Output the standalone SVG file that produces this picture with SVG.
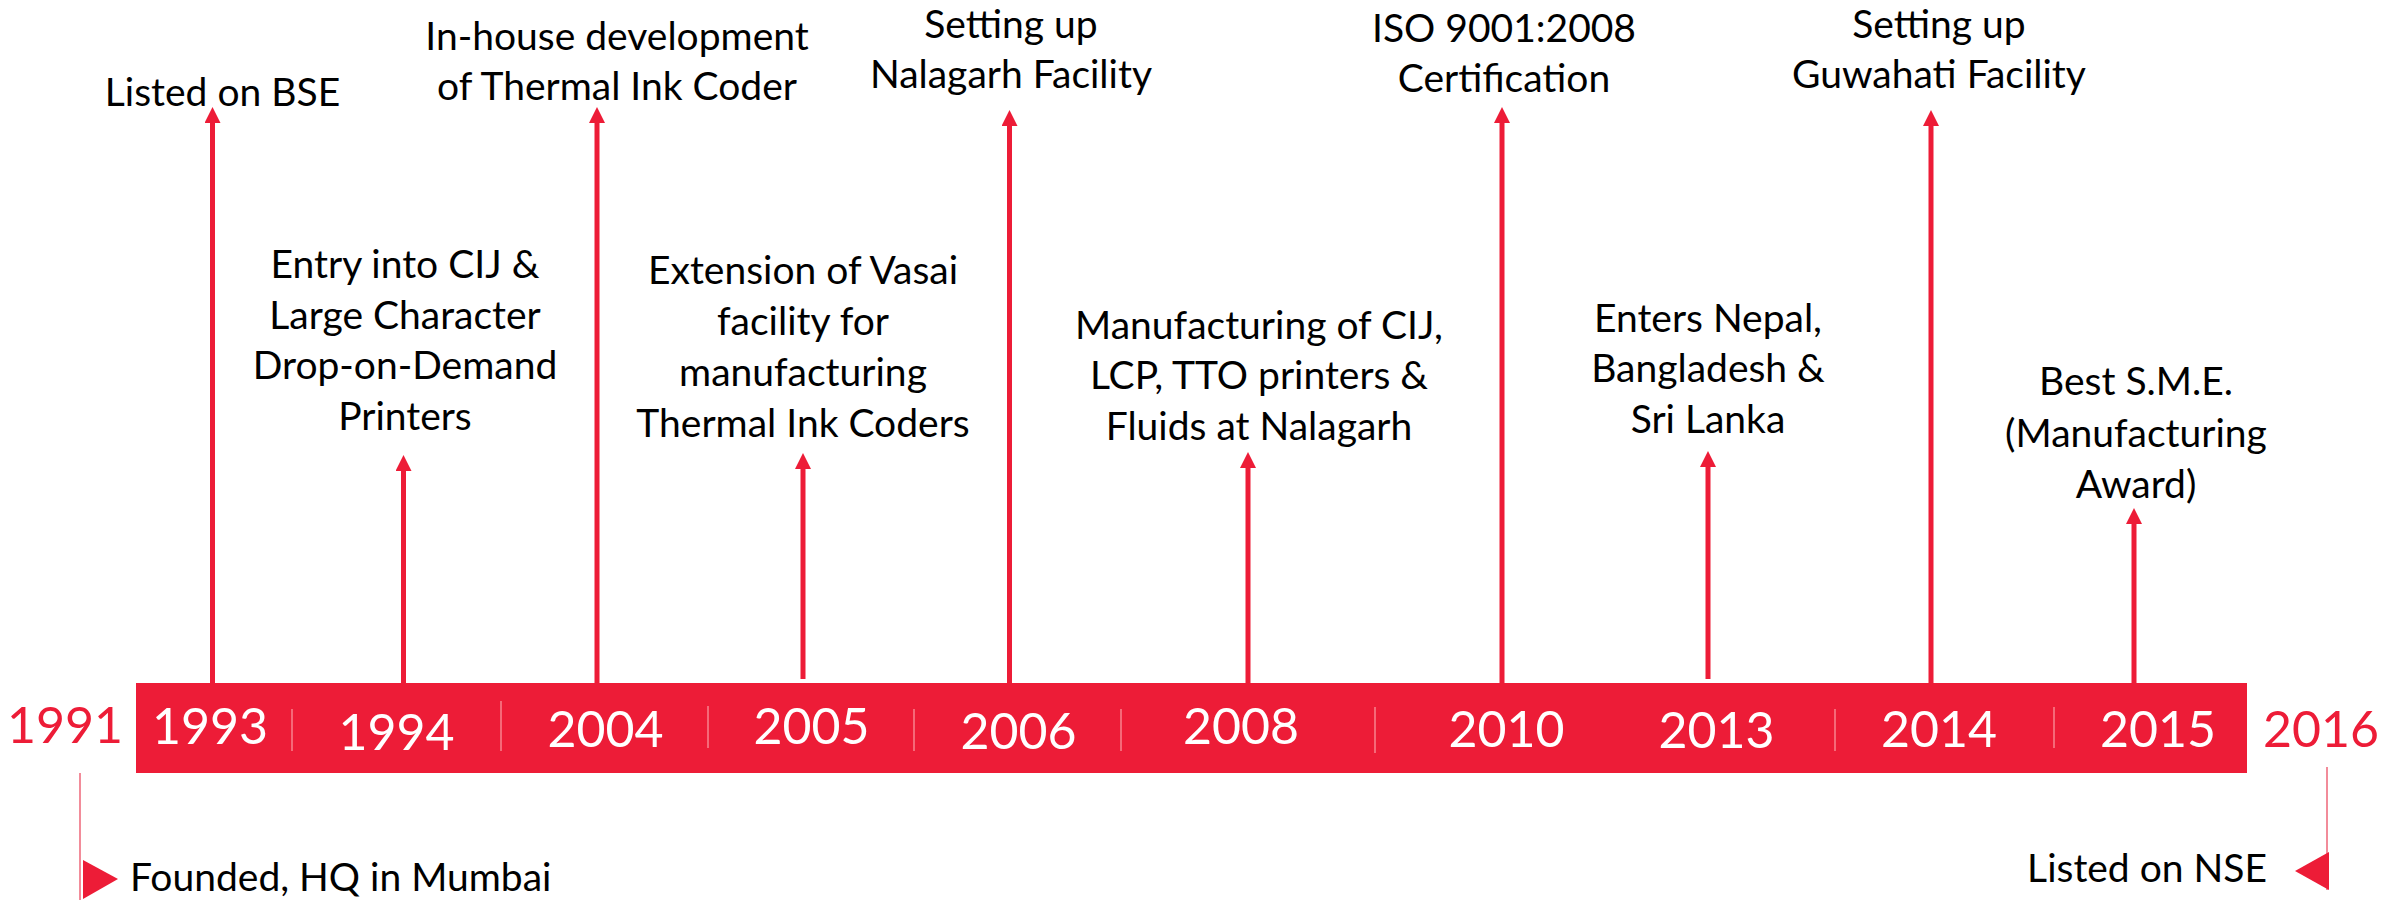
<svg xmlns="http://www.w3.org/2000/svg" width="2395" height="900" viewBox="0 0 2395 900">
  <defs>
    <style>
      text { font-family: Lato, "Liberation Sans", sans-serif; }
      .lbl { font-size: 39px; fill: #000; text-anchor: middle; }
      .yr { font-size: 50px; fill: #fff; text-anchor: middle; }
      .yr-out { font-size: 50px; fill: #ED1C37; text-anchor: middle; }
      .arrow { stroke: #ED1C37; stroke-width: 5; fill: none; marker-end: url(#head); }
      .sep { stroke: #F7838F; stroke-width: 1.5; }
      .tick { stroke: #F28C9A; stroke-width: 2; }
    </style>
    <marker id="head" markerUnits="userSpaceOnUse" markerWidth="16" markerHeight="16" refX="0" refY="8" orient="auto" viewBox="0 0 16 16">
      <path d="M0,0 L16,8 L0,16 z" fill="#ED1C37"/>
    </marker>
  </defs>

  <rect width="2395" height="900" fill="#fff"/>

  <!-- timeline bar -->
  <g id="bar">
    <rect x="136" y="683" width="2111" height="90" fill="#ED1C37"/>
    <line class="sep" x1="292" y1="709" x2="292" y2="751"/>
    <line class="sep" x1="501" y1="701" x2="501" y2="751"/>
    <line class="sep" x1="708" y1="706" x2="708" y2="748"/>
    <line class="sep" x1="914" y1="709" x2="914" y2="751"/>
    <line class="sep" x1="1121" y1="709" x2="1121" y2="751"/>
    <line class="sep" x1="1375" y1="707" x2="1375" y2="753"/>
    <line class="sep" x1="1835" y1="709" x2="1835" y2="751"/>
    <line class="sep" x1="2054" y1="707" x2="2054" y2="748"/>
    <text class="yr" x="210" y="744">1993</text>
    <text class="yr" x="396.5" y="750">1994</text>
    <text class="yr" x="605.5" y="747">2004</text>
    <text class="yr" x="811.5" y="744">2005</text>
    <text class="yr" x="1018.5" y="749">2006</text>
    <text class="yr" x="1241" y="744">2008</text>
    <text class="yr" x="1506.5" y="747">2010</text>
    <text class="yr" x="1716.5" y="748">2013</text>
    <text class="yr" x="1939" y="747">2014</text>
    <text class="yr" x="2158" y="747">2015</text>
  </g>

  <!-- start and end markers -->
  <g id="start-1991">
    <text class="yr-out" x="65" y="743">1991</text>
    <line class="tick" x1="80" y1="773" x2="80" y2="900"/>
    <polygon points="83,860 118,879 83,899" fill="#ED1C37"/>
    <text x="130" y="891" style="font-size:39px;fill:#000">Founded, HQ in Mumbai</text>
  </g>
  <g id="end-2016">
    <text class="yr-out" x="2321" y="747">2016</text>
    <line class="tick" x1="2327" y1="767" x2="2327" y2="890"/>
    <polygon points="2329,852 2295,871 2329,890" fill="#ED1C37"/>
    <text x="2267" y="882" style="font-size:39px;fill:#000;text-anchor:end">Listed on NSE</text>
  </g>

  <!-- milestone pointers -->
  <g id="connectors">
    <line class="arrow" x1="212.5" y1="683" x2="212.5" y2="123"/>
    <line class="arrow" x1="403.5" y1="683" x2="403.5" y2="471"/>
    <line class="arrow" x1="597" y1="683" x2="597" y2="123"/>
    <line class="arrow" x1="803" y1="679" x2="803" y2="469"/>
    <line class="arrow" x1="1009.5" y1="683" x2="1009.5" y2="126"/>
    <line class="arrow" x1="1248" y1="683" x2="1248" y2="468"/>
    <line class="arrow" x1="1502" y1="683" x2="1502" y2="123"/>
    <line class="arrow" x1="1708" y1="679" x2="1708" y2="467"/>
    <line class="arrow" x1="1931" y1="683" x2="1931" y2="126"/>
    <line class="arrow" x1="2134" y1="683" x2="2134" y2="524"/>
  </g>

  <!-- milestone captions -->
  <g id="m1993">
    <text class="lbl" x="222.5" y="106">Listed on BSE</text>
  </g>
  <g id="m1994">
    <text class="lbl" x="405" y="278">Entry into CIJ &amp;</text>
    <text class="lbl" x="405" y="329">Large Character</text>
    <text class="lbl" x="405" y="379">Drop-on-Demand</text>
    <text class="lbl" x="405" y="430">Printers</text>
  </g>
  <g id="m2004">
    <text class="lbl" x="617" y="50">In-house development</text>
    <text class="lbl" x="617" y="100">of Thermal Ink Coder</text>
  </g>
  <g id="m2005">
    <text class="lbl" x="803" y="284">Extension of Vasai</text>
    <text class="lbl" x="803" y="335">facility for</text>
    <text class="lbl" x="803" y="386">manufacturing</text>
    <text class="lbl" x="803" y="437">Thermal Ink Coders</text>
  </g>
  <g id="m2006">
    <text class="lbl" x="1011" y="38">Setting up</text>
    <text class="lbl" x="1011" y="88">Nalagarh Facility</text>
  </g>
  <g id="m2008">
    <text class="lbl" x="1259" y="339">Manufacturing of CIJ,</text>
    <text class="lbl" x="1259" y="389">LCP, TTO printers &amp;</text>
    <text class="lbl" x="1259" y="440">Fluids at Nalagarh</text>
  </g>
  <g id="m2010">
    <text class="lbl" x="1504" y="42">ISO 9001:2008</text>
    <text class="lbl" x="1504" y="92">Certification</text>
  </g>
  <g id="m2013">
    <text class="lbl" x="1708" y="332">Enters Nepal,</text>
    <text class="lbl" x="1708" y="382">Bangladesh &amp;</text>
    <text class="lbl" x="1708" y="433">Sri Lanka</text>
  </g>
  <g id="m2014">
    <text class="lbl" x="1939" y="38">Setting up</text>
    <text class="lbl" x="1939" y="88">Guwahati Facility</text>
  </g>
  <g id="m2015">
    <text class="lbl" x="2136" y="395">Best S.M.E.</text>
    <text class="lbl" x="2136" y="447">(Manufacturing</text>
    <text class="lbl" x="2136" y="498">Award)</text>
  </g>
</svg>
